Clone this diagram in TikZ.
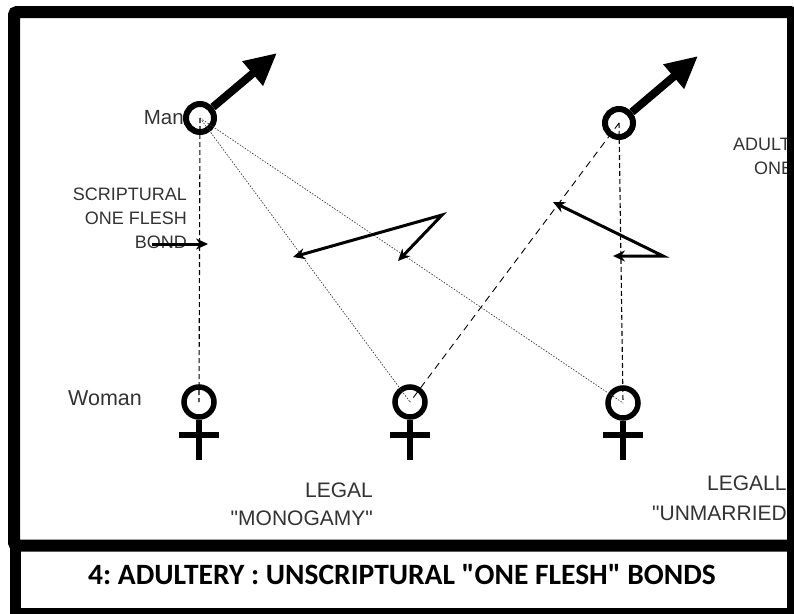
\documentclass[tikz,border=0pt]{standalone}
\usepackage{fontspec}
\setmainfont{Liberation Sans}[Ligatures=TeXOff]
\newfontfamily\titlefont{Carlito}
\usetikzlibrary{arrows.meta}
\frenchspacing
\begin{document}
\begin{tikzpicture}[x=1pt,y=-1pt,
  lbl/.style={text=black!80, inner sep=0pt, font=\fontsize{18}{24}\selectfont},
  biglbl/.style={text=black!80, inner sep=0pt, font=\fontsize{21}{28}\selectfont},
  mring/.style={circle, draw, line width=6pt, minimum size=28pt, inner sep=0pt},
  wring/.style={circle, draw, line width=5.5pt, minimum size=30pt, inner sep=0pt},
  bigarrow/.style={line width=8pt, -{Triangle[length=32pt,width=30pt]}},
  zig/.style={line width=3pt, line join=miter, {Stealth[length=12pt,width=11pt]}-{Stealth[length=12pt,width=11pt]}},
  smallarrow/.style={line width=3pt, -{Stealth[length=12pt,width=11pt]}},
  dashl/.style={line width=1.1pt, dash pattern=on 5pt off 3pt},
  longdash/.style={line width=0.9pt, dash pattern=on 7pt off 5pt},
  dotl/.style={line width=0.7pt, black!75, dash pattern=on 1.5pt off 1.5pt},
  crossbar/.style={line width=5.5pt},
  frame/.style={line width=12pt, draw=black}
]
\useasboundingbox (0,0) rectangle (794,613);
% symbols
\node[mring] (m1) at (200,118) {};
\node[mring] (m2) at (619,123) {};
\node[wring] (w1) at (199,402) {};
\node[wring] (w2) at (410,402) {};
\node[wring] (w3) at (623,403) {};
% bonds
\draw[dashl] (m1.center) -- (w1.center);
\draw[dashl] (m2.center) -- (w3.center);
\draw[longdash] (m2.center) -- (w2.center);
\draw[dotl] (m1.center) -- (w2.center);
\draw[dotl] (m1.center) -- (w3.center);
% male arrows
\coordinate (t1) at (277,53);
\coordinate (t2) at (698,56);
\draw[bigarrow] (m1) -- (t1);
\draw[bigarrow] (m2) -- (t2);
% female crosses
\foreach \w/\x in {w1/199,w2/410,w3/623}{
  \coordinate (\w s) at (\x,460);
  \coordinate (\w l) at (\x-20,435);
  \coordinate (\w r) at (\x+20,435);
  \draw[crossbar] (\w.south) -- (\w s);
  \draw[crossbar] (\w l) -- (\w r);
}
% labels
\node[text=black!80, inner sep=0pt, font=\fontsize{20.5}{24}\selectfont, anchor=east] (manl) at (184,118) {Man};
\node[text=black!80, inner sep=0pt, font=\fontsize{21.5}{24}\selectfont, anchor=west] (womanl) at (68,398) {Woman};
\node[lbl, align=right, anchor=east] (scrl) at (187,218) {SCRIPTURAL\\ONE FLESH\\BOND};
\node[biglbl, align=right, anchor=east] (legl) at (373,504) {LEGAL\\"MONOGAMY"};
\node[biglbl, anchor=west] (leg2a) at (707,483) {LEGALL};
\node[biglbl, anchor=west] (leg2b) at (652,513) {"UNMARRIED};
\node[lbl, anchor=west] (adla) at (733,144) {ADULT};
\node[lbl, anchor=west] (adlb) at (754,168) {ONE};
% thin arrows
\coordinate (b0) at (152,244);
\coordinate (b1) at (208,244);
\draw[smallarrow] (b0) -- (b1);
\coordinate (z1a) at (293,257);
\coordinate (z1b) at (442,215);
\coordinate (z1c) at (398,261);
\draw[zig] (z1a) -- (z1b) -- (z1c);
\coordinate (z2a) at (553,202);
\coordinate (z2b) at (663,256);
\coordinate (z2c) at (613,256);
\draw[zig] (z2a) -- (z2b) -- (z2c);
% frame
\draw[frame, rounded corners=3pt] (14,12) rectangle (793,545.5);
\draw[line width=11pt] (15.5,545.5) rectangle (792,613);
\node[inner sep=0pt, anchor=base, font=\titlefont\bfseries\fontsize{29.5}{32}\selectfont] (title) at (402,584) {4: ADULTERY : UNSCRIPTURAL "ONE FLESH" BONDS};
\end{tikzpicture}
\end{document}
